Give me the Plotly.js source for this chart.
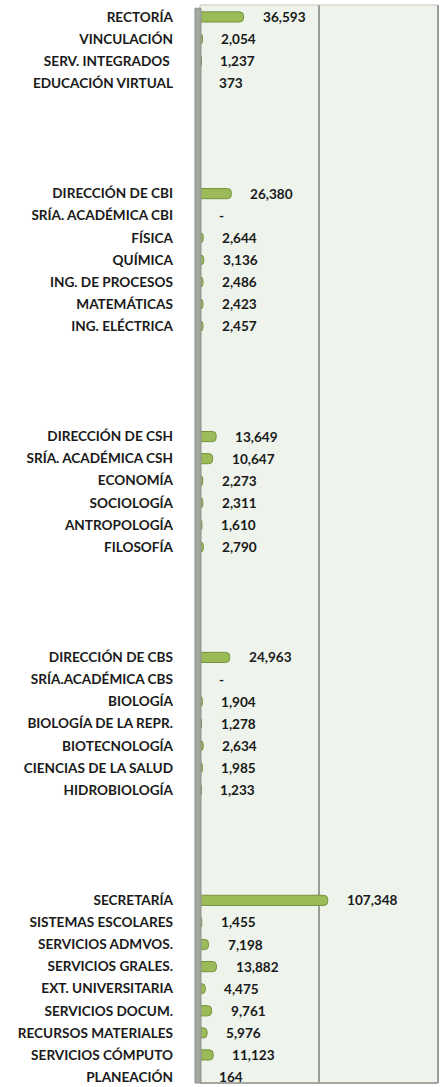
<!DOCTYPE html>
<html>
<head>
<meta charset="utf-8">
<script src="https://cdn.plot.ly/plotly-3.0.1.min.js"></script>
<style>html,body{margin:0;padding:0;background:#fff;}#chart{width:442px;height:1087px;}</style>
</head>
<body>
<div id="chart"></div>
<script>
// ---- data ----
const groupRectoria = ["RECTORÍA", "VINCULACIÓN", "SERV. INTEGRADOS ", "EDUCACIÓN VIRTUAL"];
const valuesRectoria = [36593, 2054, 1237, 373];

const groupCBI = ["DIRECCIÓN DE CBI", "SRÍA. ACADÉMICA CBI", "FÍSICA", "QUÍMICA", "ING. DE PROCESOS", "MATEMÁTICAS", "ING. ELÉCTRICA"];
const valuesCBI = [26380, 0, 2644, 3136, 2486, 2423, 2457];

const groupCSH = ["DIRECCIÓN DE CSH", "SRÍA. ACADÉMICA CSH", "ECONOMÍA", "SOCIOLOGÍA", "ANTROPOLOGÍA", "FILOSOFÍA"];
const valuesCSH = [13649, 10647, 2273, 2311, 1610, 2790];

const groupCBS = ["DIRECCIÓN DE CBS", "SRÍA.ACADÉMICA CBS", "BIOLOGÍA", "BIOLOGÍA DE LA REPR.", "BIOTECNOLOGÍA", "CIENCIAS DE LA SALUD", "HIDROBIOLOGÍA"];
const valuesCBS = [24963, 0, 1904, 1278, 2634, 1985, 1233];

const groupSecretaria = ["SECRETARÍA", "SISTEMAS ESCOLARES", "SERVICIOS ADMVOS.", "SERVICIOS GRALES.", "EXT. UNIVERSITARIA", "SERVICIOS DOCUM.", "RECURSOS MATERIALES", "SERVICIOS CÓMPUTO", "PLANEACIÓN"];
const valuesSecretaria = [107348, 1455, 7198, 13882, 4475, 9761, 5976, 11123, 164];

// ---- build category list with blank spacer rows between groups ----
const groups = [
  [groupRectoria, valuesRectoria],
  [groupCBI, valuesCBI],
  [groupCSH, valuesCSH],
  [groupCBS, valuesCBS],
  [groupSecretaria, valuesSecretaria]
];
const SPACER_ROWS = 4;
let cats = [], spacerCount = 0;
const realCats = [], realVals = [];
groups.forEach((g, gi) => {
  if (gi > 0) {
    for (let k = 0; k < SPACER_ROWS; k++) { spacerCount++; cats.push("_gap" + spacerCount); }
  }
  g[0].forEach((c, i) => { cats.push(c); realCats.push(c); realVals.push(g[1][i]); });
});

const fmt = v => v === 0 ? "-" : v.toLocaleString("en-US");

const FONT = "Lato, 'Open Sans', sans-serif";
const FSIZE = 13.6;

const trace = {
  type: "bar",
  orientation: "h",
  y: realCats,
  x: realVals,
  width: 0.46,
  marker: { color: "#9bbb59", line: { color: "#76923c", width: 1 }, cornerradius: 4 },
  hoverinfo: "none"
};

const annotations = realCats.map((c, i) => ({
  x: realVals[i], y: c, xref: "x", yref: "y",
  text: fmt(realVals[i]), showarrow: false,
  xanchor: "left", yanchor: "middle", xshift: 17,
  font: { family: FONT, size: FSIZE, color: "#1a1a1a", weight: 700 }
}));

const layout = {
  width: 442, height: 1087,
  margin: { l: 200, r: 4, t: 5, b: 4, pad: 0 },
  paper_bgcolor: "#ffffff",
  plot_bgcolor: "#eef3ec",
  showlegend: false,
  xaxis: {
    range: [0, 200000], dtick: 100000, showticklabels: false,
    showgrid: true, gridcolor: "#9a9e98", gridwidth: 2,
    zeroline: false, showline: false, fixedrange: true
  },
  yaxis: {
    type: "category", categoryorder: "array", categoryarray: cats,
    tickmode: "array", tickvals: realCats, ticktext: realCats,
    range: [48.27, -0.54], autorange: false,
    showgrid: false, zeroline: false, ticks: "", ticklabelstandoff: 26,
    tickfont: { family: FONT, size: FSIZE, color: "#1a1a1a", weight: 700 },
    fixedrange: true
  },
  annotations: annotations,
  shapes: [
    // plot frame
    { type: "rect", xref: "paper", yref: "paper", x0: 0, x1: 1, y0: 0, y1: 1,
      line: { color: "#c3c7c1", width: 1 }, fillcolor: "rgba(0,0,0,0)", layer: "above" },
    { type: "line", xref: "paper", yref: "paper", x0: 1, x1: 1, y0: 0, y1: 1,
      line: { color: "#9a9e98", width: 2 }, layer: "above" },
    { type: "line", xref: "paper", yref: "paper", x0: 0, x1: 1, y0: 0, y1: 0,
      line: { color: "#a3a7a1", width: 2 }, layer: "above" },
    // left 3D wall
    { type: "rect", xref: "paper", yref: "paper", xsizemode: "pixel", xanchor: 0,
      x0: -5, x1: 1, y0: 0, y1: 0.997,
      fillcolor: "#a3a8a1", line: { color: "#8c918a", width: 1 }, layer: "above" }
  ]
};

Plotly.newPlot("chart", [trace], layout, { displayModeBar: false, staticPlot: true });
</script>
</body>
</html>
